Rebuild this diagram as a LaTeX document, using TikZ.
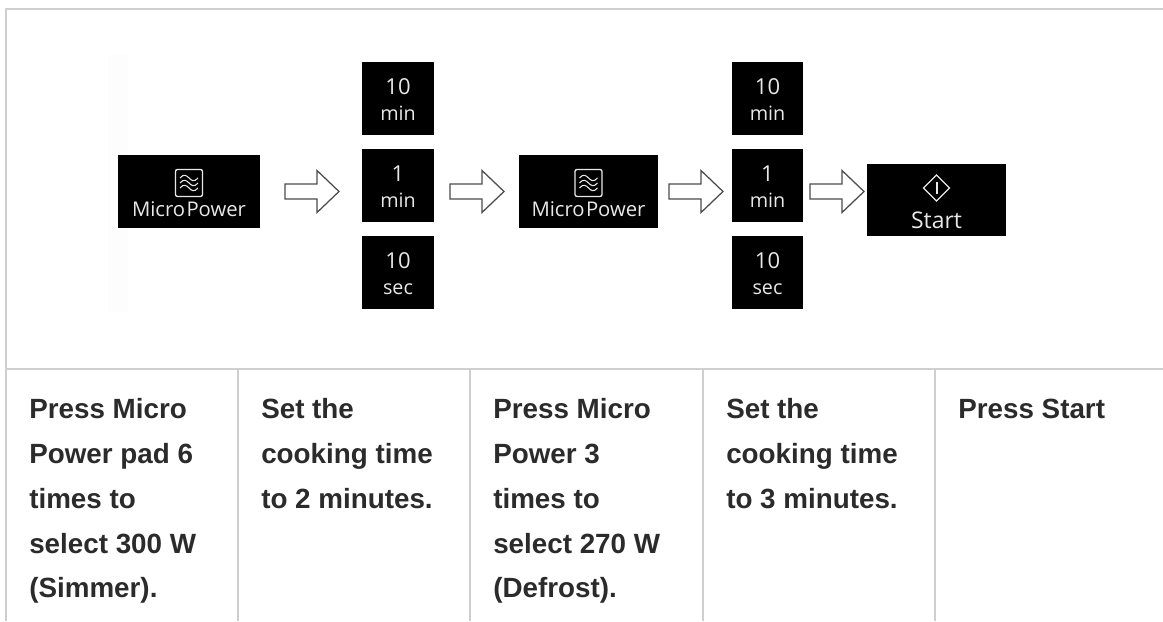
\documentclass[tikz,border=0pt]{standalone}
\usepackage{fontspec}
\setmainfont{Liberation Sans}
\newfontfamily\padfont{Open Sans}
\definecolor{gridc}{HTML}{CFCFCF}
\definecolor{inkc}{HTML}{2B2B2B}
\definecolor{padtext}{HTML}{E8E8E8}
\definecolor{faintc}{HTML}{FDFDFD}
\tikzset{
  x=0.75pt,y=-0.75pt,
  gridline/.style={draw=gridc,line width=1.6pt},
  padbox/.style={fill=black,draw=none,inner sep=0pt,outer sep=0pt},
  padlabel/.style={text=padtext,font=\padfont\fontsize{14.8}{15}\selectfont,inner sep=0pt,anchor=base},
  padnum/.style={text=padtext,font=\padfont\fontsize{16.5}{15}\selectfont,inner sep=0pt,anchor=base},
  cell/.style={text=inkc,font=\bfseries\fontsize{20.85}{33.75}\selectfont,inner sep=0pt,anchor=base west},
  outlinearrow/.style={draw=black!70,line width=0.95pt,fill=white,line join=miter},
  padicon/.style={draw=padtext,line width=1pt},
  pics/blockarrow/.style={code={
    \draw[outlinearrow] (0,-7.5) -- (32,-7.5) -- (32,-21) -- (54,0) -- (32,21) -- (32,7.5) -- (0,7.5) -- cycle;
  }},
  pics/waveicon/.style={code={
    \draw[padicon,rounded corners=1.5pt] (-13.5,-13.5) rectangle (13.5,13.5);
    \foreach \d in {-5,0,5}
      \draw[padicon,line width=0.8pt] (-9,\d) .. controls (-5,\d-5) and (-2,\d-2) .. (0,\d) .. controls (2,\d+2) and (5,\d+5) .. (9,\d);
  }},
}
\newcommand{\padbox}[5]{\path[padbox] (#2,#3) rectangle (#4,#5) coordinate[pos=0.5] (#1);}
\begin{document}
\begin{tikzpicture}
\useasboundingbox (0,0) rectangle (1163,621);
\fill[white] (0,0) rectangle (1163,621);
\fill[faintc] (108,55) rectangle (128,312);
% table rules
\draw[gridline] (1163,9) -- (6,9) -- (6,621);
\draw[gridline] (6,369) -- (1163,369);
\foreach \gx in {238,470,703,935} \draw[gridline] (\gx,369) -- (\gx,621);
% pads
\padbox{mpa}{118}{155}{260}{228}
\padbox{tena}{362}{62}{434}{135}
\padbox{onea}{362}{149}{434}{222}
\padbox{seca}{362}{236}{434}{309}
\padbox{mpb}{519}{155}{658}{228}
\padbox{tenb}{732}{62}{803}{135}
\padbox{oneb}{732}{149}{803}{222}
\padbox{secb}{732}{236}{803}{309}
\padbox{st}{867}{164}{1006}{236}
% Micro Power labels
\foreach \n in {mpa,mpb}{
  \pic at ([yshift=6.4pt]\n) {waveicon};
  \node[padlabel,font=\padfont\fontsize{15.2}{15.6}\selectfont] (\n t) at ([yshift=-18.4pt]\n) {Micro\kern1pt Power};
}
% time labels
\foreach \n/\a/\b in {tena/10/min,onea/1/min,seca/10/sec,tenb/10/min,oneb/1/min,secb/10/sec}{
  \node[padnum] (\n u) at ([yshift=3pt]\n) {\a};
  \node[padlabel] (\n v) at ([yshift=-16.3pt]\n) {\b};
}
% Start pad
\draw[padicon,line width=1pt] ([yshift=9pt]st) ++(0,9.75pt) -- ++(9.75pt,-9.75pt) -- ++(-9.75pt,-9.75pt) -- ++(-9.75pt,9.75pt) -- cycle;
\draw[padicon,line width=1.5pt] ([yshift=13.5pt]st) -- ([yshift=4.5pt]st);
\node[padlabel,font=\padfont\fontsize{17.2}{15.6}\selectfont] (stt) at ([yshift=-21pt]st) {Start};
% arrows
\foreach \ax in {285,450,669,810} \pic at (\ax,191.5) {blockarrow};
% cells
\node[cell] (c1a) at (29,418) {Press Micro};
\node[cell] (c1b) at (29,463) {Power pad 6};
\node[cell] (c1c) at (29,508) {times to};
\node[cell] (c1d) at (29,553) {select 300 W};
\node[cell] (c1e) at (29,597) {(Simmer).};
\node[cell] (c2a) at (261,418) {Set the};
\node[cell] (c2b) at (261,463) {cooking time};
\node[cell] (c2c) at (261,508) {to 2 minutes.};
\node[cell] (c3a) at (493,418) {Press Micro};
\node[cell] (c3b) at (493,463) {Power 3};
\node[cell] (c3c) at (493,508) {times to};
\node[cell] (c3d) at (493,553) {select 270 W};
\node[cell] (c3e) at (493,597) {(Defrost).};
\node[cell] (c4a) at (726,418) {Set the};
\node[cell] (c4b) at (726,463) {cooking time};
\node[cell] (c4c) at (726,508) {to 3 minutes.};
\node[cell] (c5a) at (958,418) {Press Start};
\end{tikzpicture}
\end{document}
